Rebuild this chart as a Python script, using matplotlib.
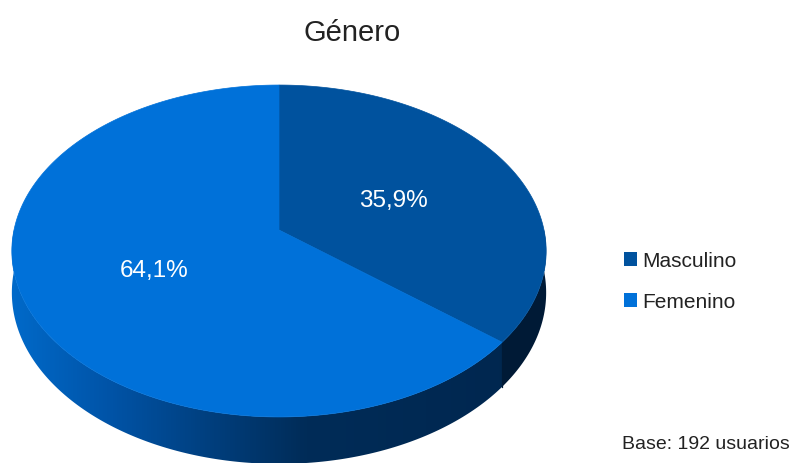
import numpy as np
import matplotlib
matplotlib.use("Agg")
import matplotlib.pyplot as plt
from matplotlib.patches import Polygon, Patch
from matplotlib.colors import LinearSegmentedColormap

plt.rcParams['font.family'] = ['Liberation Sans', 'DejaVu Sans']

# ---- data ----
categories = ["Masculino", "Femenino"]
values = [35.9, 64.1]
value_labels = ["35,9%", "64,1%"]
title = "Género"
note = "Base: 192 usuarios"

top_colors = ["#00529E", "#0071D9"]

# ---- figure ----
W, H = 792, 464
fig = plt.figure(figsize=(W / 100, H / 100), dpi=100)
ax = fig.add_axes([0, 0, 1, 1])
ax.set_xlim(0, W)
ax.set_ylim(H, 0)
ax.axis("off")

# perspective projection of the unit disk
cx, cy = 279.0, 231.0
A, B, k = 265.0, 163.3, 0.1265
D = 41.0  # thickness


def proj(theta_deg, r=1.0, z=0.0):
    t = np.radians(theta_deg)
    u = r * np.cos(t)
    v = -r * np.sin(t)
    w = 1 - k * v
    return cx + A * u / w, cy + (B * v + z) / w


fracs = np.array(values) / np.sum(values)
starts = 90 - np.concatenate([[0], np.cumsum(fracs)[:-1]]) * 360
ends = starts - fracs * 360


def side_poly(a0, a1):
    th = np.linspace(a0, a1, 200)
    xt, yt = proj(th)
    xb, yb = proj(th[::-1], z=D)
    return np.column_stack([np.concatenate([xt, xb]), np.concatenate([yt, yb])])


# side walls (visible front: theta in [-180, 0])
side_stops = {
    "Femenino": [(0.0, (0, 106, 202)), (0.18, (0, 84, 168)), (0.38, (0, 62, 124)),
                 (0.55, (0, 44, 88)), (1.0, (0, 38, 78))],
    "Masculino": [(0.0, (0, 32, 66)), (1.0, (0, 26, 54))],
}
x_left, x_right = 10, 548
for i, name in enumerate(categories):
    a_hi, a_lo = starts[i], ends[i]
    for off in (0, -360, 360):
        lo = max(a_lo + off, -180)
        hi = min(a_hi + off, 0)
        if hi > lo:
            poly = side_poly(lo, hi)
            cmap = LinearSegmentedColormap.from_list(
                name, [(p, tuple(c / 255 for c in col)) for p, col in side_stops[name]])
            grad = np.linspace(0, 1, 512)[None, :]
            im = ax.imshow(grad, cmap=cmap, extent=[x_left, x_right, 480, 200],
                           aspect="auto", zorder=1, interpolation="bilinear")
            patch = Polygon(poly, closed=True, facecolor="none", edgecolor="none")
            ax.add_patch(patch)
            im.set_clip_path(patch)
            for a in (lo, hi):
                if -179 < a < -1:
                    x0, y0 = proj(a)
                    x1, y1 = proj(a, z=D)
                    ax.plot([x0, x1], [y0, y1], color="#001A36", lw=0.8, zorder=2)

ax.set_xlim(0, W)
ax.set_ylim(H, 0)

# top faces
for i, name in enumerate(categories):
    th = np.linspace(starts[i], ends[i], 300)
    xs, ys = proj(th)
    pts = np.column_stack([np.concatenate([[cx], xs]), np.concatenate([[cy], ys])])
    ax.add_patch(Polygon(pts, closed=True, facecolor=top_colors[i],
                         edgecolor=top_colors[i], lw=0.5, zorder=3))

# value labels
for i in range(len(values)):
    mid = (starts[i] + ends[i]) / 2
    lx, ly = proj(mid, r=0.5)
    ax.text(lx - 2, ly + 4, value_labels[i], color="white", fontsize=17.5,
            ha="center", va="center", zorder=5)

# title
ax.text(352, 33, title, fontsize=21, ha="center", va="center", color="#222222")

# legend
handles = [Patch(facecolor=top_colors[i], edgecolor="none", label=categories[i])
           for i in range(len(categories))]
leg = ax.legend(handles=handles, loc="upper left",
                bbox_to_anchor=(614 / W, 1 - 242 / H), frameon=False,
                fontsize=15, handlelength=0.6, handleheight=0.6,
                handletextpad=0.25, labelspacing=1.05, borderpad=0)
for t in leg.get_texts():
    t.set_color("#222222")

# note
ax.text(790, 445, note, fontsize=14, ha="right", va="center", color="#222222")

fig.savefig("out.png", dpi=100)
